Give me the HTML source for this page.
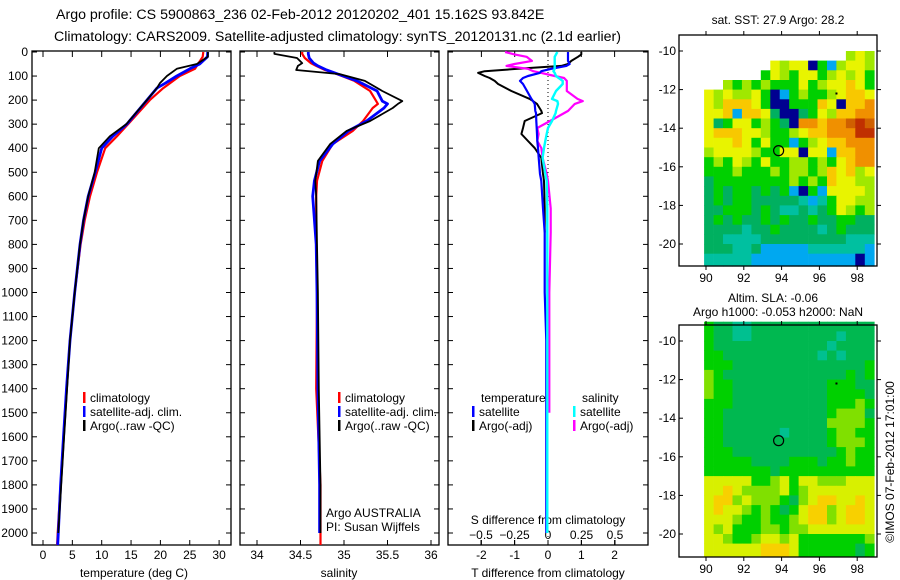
<!DOCTYPE html>
<html><head><meta charset="utf-8">
<style>
body{margin:0;background:#fff;}
svg{display:block;font-family:"Liberation Sans",sans-serif;}
text{fill:#000;}
</style></head>
<body>
<svg id="fig" width="900" height="580" viewBox="0 0 900 580" xmlns="http://www.w3.org/2000/svg">
<text x="56" y="19" font-size="14.2">Argo profile: CS 5900863_236 02-Feb-2012 20120202_401 15.162S 93.842E</text>
<text x="54" y="41" font-size="14.2">Climatology: CARS2009. Satellite-adjusted climatology: synTS_20120131.nc (2.1d earlier)</text>
<g id="g1"></g>
<g id="g2"></g>
<g id="g3"></g>
<g id="m1"></g>
<g id="m2"></g>
<text x="778" y="24" font-size="12" text-anchor="middle">sat. SST: 27.9 Argo: 28.2</text>
<text x="773" y="302" font-size="12" text-anchor="middle">Altim. SLA: -0.06</text>
<text x="778" y="316" font-size="12" text-anchor="middle">Argo h1000: -0.053 h2000: NaN</text>
<text transform="translate(894,462) rotate(-90)" font-size="12" text-anchor="middle">©IMOS 07-Feb-2012 17:01:00</text>
<text x="326" y="517" font-size="12">Argo AUSTRALIA</text>
<text x="326" y="531" font-size="12">PI: Susan Wijffels</text>
</svg>
<script>
// ---- temperature data
const tDepth=[0,20,50,70,100,130,150,200,300,350,400,500,600,700,800,1000,1200,1400,1600,1800,2000,2050];
const tClim=[27.3,27.2,26.4,25.9,23.3,21.6,20.5,18.2,14.5,12.6,10.6,9.2,8.0,7.1,6.4,5.4,4.6,4.0,3.5,3.0,2.5,2.4];
const tSat=[28.05,28.0,26.7,25.0,22.8,20.8,19.4,17.7,14.3,11.9,10.0,8.9,7.7,6.9,6.3,5.4,4.6,4.0,3.5,3.0,2.6,2.5];
const tArgo=[28.1,28.1,26.2,22.8,21.1,19.9,19.4,17.7,14.2,11.4,9.5,8.8,7.7,6.9,6.3,5.4,4.6,4.1,3.6,3.1,2.6,null];
// ---- salinity data
const sDepth=[0,8,25,46,58,75,92,120,162,204,216,233,287,328,383,453,536,600,800,1000,1400,1800,2000,2050];
const sClim=[34.52,34.52,34.55,34.62,34.68,34.78,34.92,35.12,35.3,35.37,35.39,35.33,35.22,35.1,34.87,34.75,34.69,34.68,34.68,34.69,34.68,34.73,34.73,34.73];
const sSat=[34.59,34.59,34.6,34.65,34.7,34.8,34.93,35.15,35.38,35.44,35.5,35.46,35.26,35.05,34.87,34.72,34.66,34.64,34.68,34.69,34.7,34.72,34.72,null];
const sArgo=[34.2,34.2,34.46,34.52,34.47,34.45,34.95,35.24,35.44,35.67,35.62,35.56,35.3,35.03,34.84,34.7,34.67,34.68,34.69,34.7,34.71,34.73,34.73,null];
// ---- difference data
const dDepth=[0,10,20,37,50,58,70,80,87,100,108,120,133,162,195,204,216,245,254,287,316,341,370,399,440,507,536,650,750,1000,1200,1500,1800,2000];
const tdArgo=[1.0,1.0,0.9,0.7,0.6,0.4,-0.9,-1.9,-2.1,-1.9,-1.75,-1.6,-1.5,-1.1,-0.55,-0.45,-0.33,-0.2,-0.18,-0.7,-0.75,-0.8,-0.6,-0.4,-0.2,-0.15,-0.12,-0.1,-0.1,null,null,null,null,null];
const tdSat=[0.6,0.6,0.6,0.6,0.65,0.55,0.1,-0.2,-0.25,-0.6,-0.75,-0.84,-0.75,-0.63,-0.5,-0.45,-0.4,-0.38,-0.36,-0.35,-0.34,-0.33,-0.32,-0.3,-0.28,-0.24,-0.2,-0.15,-0.1,-0.1,-0.05,-0.05,-0.05,-0.05];
const sdSat=[0.07,0.06,0.05,0.05,0.05,0.05,0.05,0.04,0.05,0.06,0.08,0.11,0.11,0.06,0.03,0.07,0.075,0.06,0.057,0.03,0.0,-0.01,-0.02,-0.03,-0.04,-0.02,-0.01,-0.005,-0.005,-0.005,-0.005,-0.005,-0.005,-0.005];
const sdArgo=[-0.32,-0.25,-0.16,-0.12,-0.25,-0.31,-0.15,-0.11,-0.05,0.05,0.12,0.14,0.14,0.14,0.22,0.26,0.2,0.15,0.12,0.015,-0.08,-0.07,-0.08,-0.05,-0.04,-0.01,0.0,0.02,0.02,0.01,0.01,0.01,null,null];
// ---- tick labels
const depthTicks=[0,100,200,300,400,500,600,700,800,900,1000,1100,1200,1300,1400,1500,1600,1700,1800,1900,2000];
const tTicks=[0,5,10,15,20,25,30];
const sTicks=[34,34.5,35,35.5,36];
const tdTicks=[-2,-1,0,1,2];
const sdTicks=[-0.5,-0.25,0,0.25,0.5];
const latTicks=[10,12,14,16,18,20];
const lonTicks=[90,92,94,96,98];
// ---- map grids (0.5 deg cells, lon 89.9.., rows by lat start)
const sstLat0=10.0;
const sstRows=[
"               lyl",
"       ylyybgclyyl",
"      gylgyyglylyg",
"  lglglgggyglyyoyg",
"ylyllygbcglgglyooy",
"yloooygbbgggoyboor",
"yyocooysbbsgyloorr",
"ysgyyglgsbrrorrdmd",
"yoooyylgglyoorrrmm",
"yyyoygyggcglyoorrr",
"lyyyylggyybyycoorr",
"glgylgyggllglgyorr",
"ggglggglgllgloyoly",
"sgggggggglglgoyyll",
"sgsggsgsgcbgcyyyyl",
"sgsggssssstctgyyll",
"ssgggsgsttstsgylgl",
"sgsgssgsgssgssggss",
"sssstssgsssstsgsss",
"ssttttsssssssssttt",
"sssttscccccttttttc",
"tttttcccccccccccbc"];
const slaLat0=9.0;
const slaRows=[
"gssttsssssssssssss",
"gssttssssssssstsss",
"gsssssssssssstssss",
"ggsssssssssststsss",
"gggssssssssssssssg",
"lgsssssssssssssgsg",
"lggssssssssssgggss",
"lggssssssssssggggs",
"gggssssssssssggglg",
"ggsssssssssssgllls",
"ggsssssssssssllllg",
"ggsssssstssssgllgg",
"ggsssssssssssglllg",
"gggsssssssssssglgg",
"gggggssssgggsgglgg",
"gggggggsgggggggggg",
"yyyyygglygyylllyyy",
"yyoyllllyglyyyyyyy",
"yoolylllgslyooyyoy",
"yoyylglgsgyoolyooy",
"yyylgglgglyoolyooy",
"ylygggllgllyyyyyyy",
"yylgglyylygggggggl",
"yyyyyyoooyggggggsg"];
const sstColors={b:"#000090",c:"#00a8f0",t:"#00c0a0",s:"#00b060",g:"#00d000",l:"#a0e800",y:"#e8f400",o:"#f8c800",r:"#f09000",d:"#d06000",m:"#c03000"};
const slaColors={s:"#00b850",t:"#00c090",g:"#00d000",l:"#80e000",y:"#d8f000",o:"#f8d000"};

const NS="http://www.w3.org/2000/svg";
function mk(parent,tag,attrs){const e=document.createElementNS(NS,tag);for(const k in attrs)e.setAttribute(k,attrs[k]);parent.appendChild(e);return e;}
const Y0=52,YPM=0.2405,YB=545;
const yD=d=>Y0+d*YPM;

function panel(g,x0,x1,name){
  const r=mk(g,'rect',{x:x0,y:Y0-1,width:x1-x0,height:YB-Y0+1,fill:'none',stroke:'#000','stroke-width':1.3});
  
  
  depthTicks.forEach(d=>{
    const t1=mk(g,'line',{x1:x0,x2:x0+5,y1:yD(d),y2:yD(d),stroke:'#000'});
    
    
    const t2=mk(g,'line',{x1:x1-5,x2:x1,y1:yD(d),y2:yD(d),stroke:'#000'});
    
    
  });
}
function xticks(g,ticks,sx,name,labelY,fmt){
  ticks.forEach(v=>{
    const x=sx(v);
    const a=mk(g,'line',{x1:x,x2:x,y1:Y0-1,y2:Y0+5,stroke:'#000'});
    
    
    const b=mk(g,'line',{x1:x,x2:x,y1:YB-5,y2:YB,stroke:'#000'});
    
    
    const t=mk(g,'text',{x:x,y:labelY,'font-size':12,'text-anchor':'middle'});
    t.textContent=fmt?fmt(v):String(v);
    
    
  });
}
function series(g,depths,vals,sx,color,w,name){
  let d='',pen=false;
  vals.forEach((v,i)=>{
    if(v===null){pen=false;return;}
    d+=(pen?'L':'M')+sx(v).toFixed(1)+' '+yD(depths[i]).toFixed(1);pen=true;
  });
  const p=mk(g,'path',{d:d,fill:'none',stroke:color,'stroke-width':w,'stroke-linejoin':'round'});
  
  
}
function legend(g,x,y,color,label,name){
  const l=mk(g,'rect',{x:x,y:y-10,width:2.5,height:11,fill:color});
  
  
  const t=mk(g,'text',{x:x+7,y:y,'font-size':12});
  t.textContent=label;
  
  
}
function txt(g,x,y,s,name,anchor){
  const t=mk(g,'text',{x:x,y:y,'font-size':12,'text-anchor':anchor||'middle'});
  t.textContent=s;
  
  
}

// Panel 1 temperature
const g1=document.getElementById('g1');
const sxT=v=>43+v*5.87;
panel(g1,32,231,'temperature');
depthTicks.forEach(d=>{
  const t=mk(g1,'text',{x:28,y:yD(d)+4,'font-size':12,'text-anchor':'end'});
  t.textContent=String(d);
  
  
});
xticks(g1,tTicks,sxT,'temperature',559);
txt(g1,134,577,'temperature (deg C)','temperature-axis-title');
series(g1,tDepth,tClim,sxT,'#ff0000',2.2,'temperature-climatology-line');
series(g1,tDepth,tSat,sxT,'#0000ff',2.8,'temperature-satellite-line');
series(g1,tDepth,tArgo,sxT,'#000000',1.8,'temperature-argo-line');
legend(g1,83,402,'#ff0000','climatology','legend-climatology');
legend(g1,83,416,'#0000ff','satellite-adj. clim.','legend-satellite');
legend(g1,83,430,'#000000','Argo(..raw -QC)','legend-argo');

// Panel 2 salinity
const g2=document.getElementById('g2');
const sxS=v=>257+(v-34)*87;
panel(g2,240,439,'salinity');
xticks(g2,sTicks,sxS,'salinity',559);
txt(g2,339,577,'salinity','salinity-axis-title');
series(g2,sDepth,sClim,sxS,'#ff0000',2.2,'salinity-climatology-line');
series(g2,sDepth,sSat,sxS,'#0000ff',2.8,'salinity-satellite-line');
series(g2,sDepth,sArgo,sxS,'#000000',1.8,'salinity-argo-line');
legend(g2,338,402,'#ff0000','climatology','legend2-climatology');
legend(g2,338,416,'#0000ff','satellite-adj. clim.','legend2-satellite');
legend(g2,338,430,'#000000','Argo(..raw -QC)','legend2-argo');

// Panel 3 differences
const g3=document.getElementById('g3');
const sxTd=v=>548+v*33.3;
const sxSd=v=>548+v*134;
panel(g3,448,648,'difference');
xticks(g3,tdTicks,sxTd,'t-difference',559);
sdTicks.forEach(v=>{
  const x=sxSd(v);
  const a=mk(g3,'line',{x1:x,x2:x,y1:540,y2:545,stroke:'#000'});
  
  
  txt(g3,x,539,String(v).replace('-','\u2212'),'s-difference-tick-label');
});
txt(g3,548,524,'S difference from climatology','s-difference-axis-title');
txt(g3,548,577,'T difference from climatology','t-difference-axis-title');
const zl=mk(g3,'line',{x1:548,x2:548,y1:Y0,y2:YB,stroke:'#000','stroke-dasharray':'1,3'});


series(g3,dDepth,tdArgo,sxTd,'#000000',2,'t-diff-argo-line');
series(g3,dDepth,sdArgo,sxSd,'#ff00ff',2.2,'s-diff-argo-line');
series(g3,dDepth,tdSat,sxTd,'#0000ff',2.2,'t-diff-satellite-line');
series(g3,dDepth,sdSat,sxSd,'#00ffff',2.4,'s-diff-satellite-line');
txt(g3,481,402,'temperature','legend3-temperature-heading','start');
txt(g3,582,402,'salinity','legend3-salinity-heading','start');
legend(g3,472,416,'#0000ff','satellite','legend3-t-satellite');
legend(g3,472,430,'#000000','Argo(-adj)','legend3-t-argo');
legend(g3,573,416,'#00ffff','satellite','legend3-s-satellite');
legend(g3,573,430,'#ff00ff','Argo(-adj)','legend3-s-argo');

// Maps
function map(id,top,bottom,lat10y,lat20y,rows,lat0,colors,name,lastRowTo){
  const g=document.getElementById(id);
  const X0=679,X1=877;
  const lonX=v=>706+(v-90)*18.9;
  const latY=v=>lat10y+(v-10)*(lat20y-lat10y)/10;
  rows.forEach((row,ri)=>{
    const la=lat0+ri*0.5;
    const la2=(ri===rows.length-1)?lastRowTo:la+0.5;
    for(let ci=0;ci<row.length;ci++){
      const c=row[ci]; if(c===' ')continue;
      const lo=89.9+ci*0.5, lo2=Math.min(99.1,lo+0.5);
      const r=mk(g,'rect',{x:lonX(lo).toFixed(1),y:latY(la).toFixed(1),width:(lonX(lo2)-lonX(lo)+0.4).toFixed(1),height:(latY(la2)-latY(la)+0.4).toFixed(1),fill:colors[c]});
      
      
    }
  });
  const f=mk(g,'rect',{x:X0,y:top,width:X1-X0,height:bottom-top,fill:'none',stroke:'#000','stroke-width':1.3});
  
  
  latTicks.forEach(v=>{
    const y=latY(v);
    const a=mk(g,'line',{x1:X0,x2:X0+4,y1:y,y2:y,stroke:'#000'});
    
    
    const b=mk(g,'line',{x1:X1,x2:X1+4,y1:y,y2:y,stroke:'#000'});
    
    
    const t=mk(g,'text',{x:X0-3,y:y+4,'font-size':12,'text-anchor':'end'});
    t.textContent='-'+v;
    
    
  });
  lonTicks.forEach(v=>{
    const x=lonX(v);
    const a=mk(g,'line',{x1:x,x2:x,y1:top-4,y2:top,stroke:'#000'});
    
    
    const b=mk(g,'line',{x1:x,x2:x,y1:bottom,y2:bottom+4,stroke:'#000'});
    
    
    const t=mk(g,'text',{x:x,y:bottom+16,'font-size':12,'text-anchor':'middle'});
    t.textContent=String(v);
    
    
  });
  const c=mk(g,'circle',{cx:lonX(93.842),cy:latY(15.162),r:5,fill:'none',stroke:'#000','stroke-width':1.2});
  
  
  const d=mk(g,'rect',{x:lonX(96.85),y:latY(12.15),width:2,height:2,fill:'#000'});
  
  
}
map('m1',35,266,51,244,sstRows,sstLat0,sstColors,'sst-map',21.15);
map('m2',325,557,341,534,slaRows,slaLat0,slaColors,'sla-map',21.15);
</script>
</body></html>
